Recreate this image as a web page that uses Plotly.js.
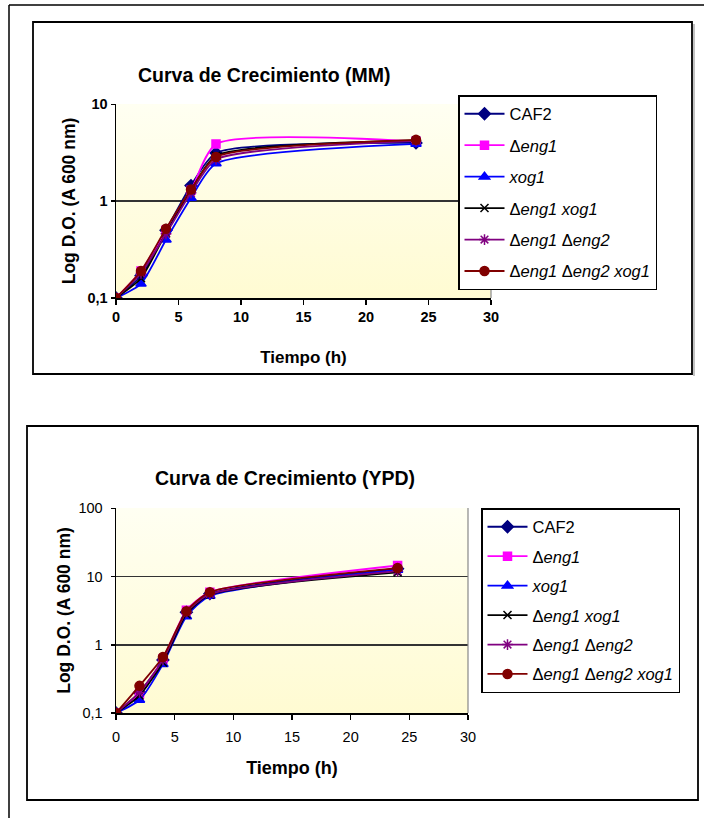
<!DOCTYPE html>
<html><head><meta charset="utf-8">
<script src="https://cdn.plot.ly/plotly-3.0.1.min.js"></script>
<style>html,body{margin:0;padding:0;background:#fff;}#chart{width:704px;height:818px;}</style>
</head><body><div id="chart"></div>
<script>
// ---- data ----
const time = [0, 2, 4, 6, 8, 24];
const seriesNames = ['CAF2', 'Δ<i>eng1</i>', '<i>xog1</i>', 'Δ<i>eng1 xog1</i>', 'Δ<i>eng1</i> Δ<i>eng2</i>', 'Δ<i>eng1</i> Δ<i>eng2 xog1</i>'];

// Medio mínimo (MM)
const mmCAF2      = [0.1, 0.17, 0.50, 1.45, 3.15, 4.00];
const mmEng1      = [0.1, 0.19, 0.50, 1.30, 3.90, 4.15];
const mmXog1      = [0.1, 0.14, 0.40, 1.08, 2.45, 3.90];
const mmEng1Xog1  = [0.1, 0.16, 0.47, 1.30, 2.95, 4.25];
const mmEng1Eng2  = [0.1, 0.18, 0.46, 1.22, 2.70, 4.20];
const mmEng1Eng2Xog1 = [0.1, 0.19, 0.52, 1.32, 2.86, 4.30];

// YPD
const ypdCAF2     = [0.1, 0.20, 0.60, 3.00, 5.60, 13.0];
const ypdEng1     = [0.1, 0.19, 0.62, 3.20, 5.90, 14.5];
const ypdXog1     = [0.1, 0.155, 0.52, 2.60, 5.20, 12.5];
const ypdEng1Xog1 = [0.1, 0.18, 0.55, 2.80, 5.40, 11.5];
const ypdEng1Eng2 = [0.1, 0.20, 0.60, 3.00, 5.50, 12.0];
const ypdEng1Eng2Xog1 = [0.1, 0.25, 0.66, 3.10, 5.90, 13.3];

const xTickVals = [0, 5, 10, 15, 20, 25, 30];
const mmTickVals = [0.1, 1, 10];
const mmTickText = ['0,1', '1', '10'];
const ypdTickVals = [0.1, 1, 10, 100];
const ypdTickText = ['0,1', '1', '10', '100'];

const chartTitles = ['Curva de Crecimiento (MM)', 'Curva de Crecimiento (YPD)'];
const xTitle = 'Tiempo (h)';
const yTitle = 'Log D.O. (A 600 nm)';

// ---- styles ----
const colors  = ['#000080', '#FF00FF', '#0000FF', '#000000', '#800080', '#800000'];
const symbols = ['diamond', 'square', 'triangle-up', 'x-thin-open', 'asterisk-open', 'circle'];
const sizes   = [9, 8, 9, 8, 9, 9];
const FONT = 'Arial, "Liberation Sans", sans-serif';

const W = 704, H = 818;
const fx = p => p / W, fy = p => 1 - p / H;

const mmSeries = [mmCAF2, mmEng1, mmXog1, mmEng1Xog1, mmEng1Eng2, mmEng1Eng2Xog1];
const ypdSeries = [ypdCAF2, ypdEng1, ypdXog1, ypdEng1Xog1, ypdEng1Eng2, ypdEng1Eng2Xog1];

function mk(ys, i, ax, leg, grp) {
  return {
    x: time, y: ys, name: seriesNames[i], type: 'scatter', mode: 'lines+markers',
    xaxis: ax[0], yaxis: ax[1], legend: leg, legendgroup: grp + i,
    line: {color: colors[i], width: 1.8, shape: 'spline', smoothing: 0.6},
    marker: {symbol: symbols[i], size: sizes[i], color: colors[i], line: {color: colors[i], width: 1.5}}
  };
}
const traces = [];
mmSeries.forEach((s, i) => traces.push(mk(s, i, ['x', 'y'], 'legend', 'a')));
ypdSeries.forEach((s, i) => traces.push(mk(s, i, ['x2', 'y2'], 'legend2', 'b')));

const bgSvg = 'data:image/svg+xml;utf8,' + encodeURIComponent(
  '<svg xmlns="http://www.w3.org/2000/svg" width="100" height="100" preserveAspectRatio="none"><defs><linearGradient id="g" x1="0" y1="0" x2="0" y2="1"><stop offset="0" stop-color="#FFFFF2"/><stop offset="1" stop-color="#FFFBD2"/></linearGradient></defs><rect width="100" height="100" fill="url(#g)"/></svg>');

function xaxis(domain, bold, standoff, titleSize, labStand) {
  return {
    domain: domain, range: [0, 30], tickvals: xTickVals, ticks: 'outside', ticklen: 5, tickwidth: 1.5,
    tickcolor: '#000', showline: true, linecolor: '#000', linewidth: 1.5, showgrid: false, zeroline: false,
    ticklabelstandoff: labStand,
    tickfont: {family: FONT, size: 14.5, color: '#000', weight: bold ? 'bold' : 'normal'},
    title: {text: xTitle, font: {family: FONT, size: titleSize, color: '#000', weight: 'bold'}, standoff: standoff},
    fixedrange: true
  };
}
function yaxis(domain, range, tv, tt, bold, anchor, standoff, labStand) {
  return {
    domain: domain, type: 'log', range: range, tickvals: tv, ticktext: tt, anchor: anchor,
    ticks: 'outside', ticklen: 4, tickwidth: 1.5, tickcolor: '#000', ticklabelstandoff: labStand,
    showline: true, linecolor: '#000', linewidth: 1.5, showgrid: true, gridcolor: '#333', gridwidth: 1.5,
    zeroline: false,
    tickfont: {family: FONT, size: 14.5, color: '#000', weight: bold ? 'bold' : 'normal'},
    title: {text: yTitle, font: {family: FONT, size: 17.5, color: '#000', weight: 'bold'}, standoff: standoff},
    fixedrange: true
  };
}

const line = (x0, y0, x1, y1, c, w) => ({type: 'line', xref: 'paper', yref: 'paper', x0: fx(x0), y0: fy(y0), x1: fx(x1), y1: fy(y1), line: {color: c, width: w}});
const rect = (x0, y0, x1, y1, c, w) => ({type: 'rect', xref: 'paper', yref: 'paper', x0: fx(x0), y0: fy(y0), x1: fx(x1), y1: fy(y1), line: {color: c, width: w}, fillcolor: 'rgba(0,0,0,0)', layer: 'below'});

const legendBase = {
  bgcolor: '#fff', bordercolor: '#000', borderwidth: 1.5, xanchor: 'left', yanchor: 'top',
  font: {family: FONT, size: 16.5, color: '#000'}, itemwidth: 40, traceorder: 'grouped'
};

const layout = {
  width: W, height: H, margin: {l: 0, r: 0, t: 0, b: 0},
  paper_bgcolor: '#fff', plot_bgcolor: '#FFFDDE', showlegend: true,
  font: {family: FONT, color: '#000'},
  xaxis: xaxis([fx(116), fx(491)], true, 27, 17, 0),
  yaxis: yaxis([fy(298), fy(104)], [-1, 1.004], mmTickVals, mmTickText, true, 'x', 7, 0),
  xaxis2: Object.assign(xaxis([fx(116), fx(468)], false, 17, 18, 5), {anchor: 'y2'}),
  yaxis2: yaxis([fy(713), fy(508)], [-1, 2.004], ypdTickVals, ypdTickText, false, 'x2', 3, 5),
  legend: Object.assign({}, legendBase, {x: fx(458), y: fy(95), tracegroupgap: 7}),
  legend2: Object.assign({}, legendBase, {x: fx(481), y: fy(508), tracegroupgap: 5}),
  images: [
    {source: bgSvg, xref: 'paper', yref: 'paper', x: fx(116), y: fy(104), sizex: fx(491) - fx(116), sizey: (298 - 104) / H, sizing: 'stretch', layer: 'below', xanchor: 'left', yanchor: 'top'},
    {source: bgSvg, xref: 'paper', yref: 'paper', x: fx(116), y: fy(508), sizex: fx(468) - fx(116), sizey: (713 - 508) / H, sizing: 'stretch', layer: 'below', xanchor: 'left', yanchor: 'top'}
  ],
  annotations: [
    {text: chartTitles[0], xref: 'paper', yref: 'paper', x: fx(264), y: fy(75), xanchor: 'center', yanchor: 'middle', showarrow: false, font: {family: FONT, size: 19.5, color: '#000', weight: 'bold'}},
    {text: chartTitles[1], xref: 'paper', yref: 'paper', x: fx(285), y: fy(478), xanchor: 'center', yanchor: 'middle', showarrow: false, font: {family: FONT, size: 19.5, color: '#000', weight: 'bold'}}
  ],
  shapes: [
    line(9, 5, 706, 5, '#000', 1.5),
    line(9, 5, 9, 820, '#000', 1.5),
    rect(33, 22, 692, 374, '#000', 1.8),
    line(694, 24, 694, 376, '#999', 1.2),
    rect(27, 426, 698, 800, '#000', 1.8),
    line(491, 104, 491, 298, '#888', 1.2),
    line(468, 508, 468, 713, '#888', 1.2)
  ]
};

Plotly.newPlot('chart', traces, layout, {staticPlot: true, displayModeBar: false});
</script>
</body></html>
